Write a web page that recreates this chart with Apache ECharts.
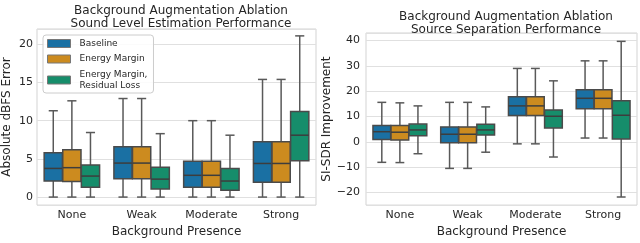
<!DOCTYPE html>
<html>
<head>
<meta charset="utf-8">
<script src="https://cdn.jsdelivr.net/npm/echarts@6/dist/echarts.min.js"></script>
<style>
html,body{margin:0;padding:0;background:#fff;}
#c{width:640px;height:243px;}
</style>
</head>
<body>
<div id="c"></div>
<script>
const categories = ['None', 'Weak', 'Moderate', 'Strong'];
const hues = ['Baseline', 'Energy Margin', 'Energy Margin, Residual Loss'];
const hueColors = ['#1a70a3', '#cc8b1f', '#168d6b'];
// each entry: [min, q1, median, q3, max] per category
const dbfsBaseline = [[0, 2.1, 3.75, 5.8, 11.3], [0, 2.4, 4.45, 6.6, 12.9], [0, 1.3, 2.85, 4.7, 10.0], [0, 1.95, 4.4, 7.25, 15.4]];
const dbfsEnergy = [[0, 2.05, 3.85, 6.2, 12.6], [0, 2.4, 4.45, 6.6, 12.9], [0, 1.3, 2.85, 4.7, 10.0], [0, 1.95, 4.4, 7.25, 15.4]];
const dbfsResidual = [[0, 1.3, 2.75, 4.2, 8.45], [0, 1.05, 2.35, 3.9, 8.3], [0, 0.9, 2.1, 3.75, 8.1], [0, 4.75, 8.1, 11.2, 21.1]];
const sdrBaseline = [[-8.1, 0.9, 4.0, 6.5, 15.6], [-10.5, -0.4, 3.0, 5.9, 15.6], [-0.8, 10.4, 14.2, 17.8, 29.0], [1.5, 13.1, 17.2, 20.6, 32.0]];
const sdrEnergy = [[-8.2, 0.7, 3.8, 6.5, 15.4], [-10.5, -0.4, 3.0, 5.9, 15.6], [-0.8, 10.4, 14.2, 17.8, 29.0], [1.5, 13.1, 17.2, 20.6, 32.0]];
const sdrResidual = [[-4.7, 2.4, 4.7, 7.0, 14.2], [-4.1, 2.7, 4.7, 6.9, 13.8], [-6.0, 5.5, 10.1, 12.6, 24.1], [-21.8, 1.15, 10.5, 16.2, 39.7]];

const FONT = 'DejaVu Sans';
const TXT = '#262626';

function makeRender(hueIdx) {
  return function (params, api) {
    const ci = api.value(0);
    const mn = api.value(1), q1 = api.value(2), md = api.value(3), q3 = api.value(4), mx = api.value(5);
    const band = api.size([1, 0])[0];
    const slot = band * 0.8 / 3;
    const bw = slot * 0.98;
    const xc = api.coord([ci, 0])[0] + (hueIdx - 1) * slot;
    const Y = v => api.coord([ci, v])[1];
    const lineStyle = { stroke: '#595959', lineWidth: 1.5 };
    const capHalf = bw / 4;
    return {
      type: 'group',
      children: [
        { type: 'line', shape: { x1: xc, y1: Y(q3), x2: xc, y2: Y(mx) }, style: lineStyle },
        { type: 'line', shape: { x1: xc, y1: Y(q1), x2: xc, y2: Y(mn) }, style: lineStyle },
        { type: 'line', shape: { x1: xc - capHalf, y1: Y(mx), x2: xc + capHalf, y2: Y(mx) }, style: lineStyle },
        { type: 'line', shape: { x1: xc - capHalf, y1: Y(mn), x2: xc + capHalf, y2: Y(mn) }, style: lineStyle },
        { type: 'rect', shape: { x: xc - bw / 2, y: Y(q3), width: bw, height: Y(q1) - Y(q3) },
          style: { fill: api.visual('color'), stroke: '#4a4a4a', lineWidth: 1.5 } },
        { type: 'line', shape: { x1: xc - bw / 2, y1: Y(md), x2: xc + bw / 2, y2: Y(md) },
          style: { stroke: '#3d3d3d', lineWidth: 1.5 } }
      ]
    };
  };
}

function toData(arr) {
  return arr.map((d, i) => [i].concat(d));
}

function boxSeries(name, hueIdx, arr, axisIdx) {
  return {
    type: 'custom',
    name: name,
    xAxisIndex: axisIdx,
    yAxisIndex: axisIdx,
    itemStyle: { color: hueColors[hueIdx] },
    renderItem: makeRender(hueIdx),
    encode: { x: 0, y: [1, 2, 3, 4, 5] },
    data: toData(arr),
    z: 3
  };
}

const minusFmt = v => String(v).replace('-', '\u2212');

function xAxisCfg(gi) {
  return {
    type: 'category', gridIndex: gi, data: categories,
    axisLine: { show: false }, axisTick: { show: false },
    axisLabel: { fontFamily: FONT, fontSize: 11, color: TXT, margin: 5, interval: 0 },
    name: 'Background Presence', nameLocation: 'middle', nameGap: 19,
    nameTextStyle: { fontFamily: FONT, fontSize: 12, color: TXT },
    splitLine: { show: false }
  };
}

function yAxisCfg(gi, mn, mx, name, gap, margin) {
  return {
    type: 'value', gridIndex: gi, min: mn, max: mx,
    axisLine: { show: false }, axisTick: { show: false },
    axisLabel: { fontFamily: FONT, fontSize: 11, color: TXT, margin: margin,
      showMinLabel: false, showMaxLabel: false, formatter: minusFmt },
    splitLine: { show: true, lineStyle: { color: '#e0e0e0', width: 1.2 } },
    name: name, nameLocation: 'middle', nameGap: gap,
    nameTextStyle: { fontFamily: FONT, fontSize: 12, color: TXT }
  };
}

const chart = echarts.init(document.getElementById('c'), null, { renderer: 'canvas' });
chart.setOption({
  animation: false,
  backgroundColor: '#ffffff',
  title: [
    { text: 'Background Augmentation Ablation\nSound Level Estimation Performance',
      left: 176, top: -1, textAlign: 'center',
      textStyle: { fontFamily: FONT, fontSize: 12, fontWeight: 'normal', color: TXT, lineHeight: 13 } },
    { text: 'Background Augmentation Ablation\nSource Separation Performance',
      left: 501, top: 5, textAlign: 'center',
      textStyle: { fontFamily: FONT, fontSize: 12, fontWeight: 'normal', color: TXT, lineHeight: 13 } }
  ],
  grid: [
    { left: 36, right: 324, top: 29, bottom: 34, show: true, borderColor: '#d3d3d3', borderWidth: 1 },
    { left: 366, right: 3, top: 33, bottom: 33, show: true, borderColor: '#d3d3d3', borderWidth: 1 }
  ],
  xAxis: [xAxisCfg(0), xAxisCfg(1)],
  yAxis: [
    yAxisCfg(0, -1.05, 22, 'Absolute dBFS Error', 24, 4),
    yAxisCfg(1, -25, 43, 'SI-SDR Improvement', 32, 6)
  ],
  legend: {
    data: hues, orient: 'vertical', left: 43, top: 35,
    padding: [3, 6, 2, 4], itemWidth: 23, itemHeight: 8, itemGap: 4.5, icon: 'rect',
    borderColor: '#cccccc', borderWidth: 1, borderRadius: 3,
    backgroundColor: 'rgba(255,255,255,0.85)',
    itemStyle: { borderColor: '#777777', borderWidth: 1 },
    textStyle: { fontFamily: FONT, fontSize: 9, color: TXT, lineHeight: 11, padding: [0, 0, 0, 4] },
    formatter: n => n.replace(', ', ',\n'),
    z: 10
  },
  series: [
    boxSeries(hues[0], 0, dbfsBaseline, 0),
    boxSeries(hues[1], 1, dbfsEnergy, 0),
    boxSeries(hues[2], 2, dbfsResidual, 0),
    boxSeries(hues[0], 0, sdrBaseline, 1),
    boxSeries(hues[1], 1, sdrEnergy, 1),
    boxSeries(hues[2], 2, sdrResidual, 1)
  ]
});
</script>
</body>
</html>
